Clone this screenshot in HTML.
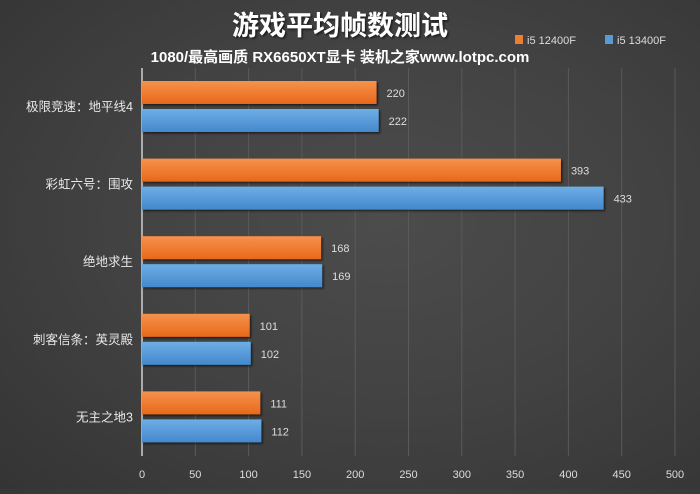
<!DOCTYPE html>
<html><head><meta charset="utf-8"><style>
html,body{margin:0;padding:0}
body{width:700px;height:489px;overflow:hidden;background:radial-gradient(ellipse at 55% 45%,#4c4c4c 0%,#424242 50%,#343434 100%);font-family:"Liberation Sans","Noto Sans CJK SC",sans-serif}
</style></head><body>
<svg id="chart" width="700" height="489">
<defs>
<linearGradient id="go" x1="0" y1="0" x2="0" y2="1"><stop offset="0" stop-color="#f5924c"/><stop offset="1" stop-color="#e8681a"/></linearGradient>
<linearGradient id="gb" x1="0" y1="0" x2="0" y2="1"><stop offset="0" stop-color="#6eaee6"/><stop offset="1" stop-color="#4488cc"/></linearGradient>
<filter id="sh" x="-5%" y="-20%" width="110%" height="150%"><feDropShadow dx="1.5" dy="1.5" stdDeviation="1" flood-color="#000" flood-opacity="0.6"/></filter>
</defs>
<text x="340" y="35" text-anchor="middle" font-size="27" font-weight="bold" fill="#fff" filter="url(#sh)">游戏平均帧数测试</text>
<text x="340" y="62" text-anchor="middle" font-size="15" font-weight="bold" fill="#fff">1080/最高画质 RX6650XT显卡 装机之家www.lotpc.com</text>
<g>
<rect x="515" y="35" width="8" height="9" fill="#ed7d31"/>
<text x="527" y="44" font-size="11" fill="#ddd">i5 12400F</text>
<rect x="605" y="35" width="8" height="9" fill="#5b9bd5"/>
<text x="617" y="44" font-size="11" fill="#ddd">i5 13400F</text>
</g>
<g id="grid"></g><g id="bars"></g><g id="labels"></g>
</svg>
<script>
const categories=["极限竞速：地平线4","彩虹六号：围攻","绝地求生","刺客信条：英灵殿","无主之地3"];
const series1=[220,393,168,101,111];
const series2=[222,433,169,102,112];
const ticks=[0,50,100,150,200,250,300,350,400,450,500];
const NS="http://www.w3.org/2000/svg";
const x0=142,pxPerUnit=533/500,yTop=68,yBottom=456,band=(yBottom-yTop)/categories.length;
const xs=v=>x0+v*pxPerUnit;
function mk(t,a,p){const e=document.createElementNS(NS,t);for(const k in a)e.setAttribute(k,a[k]);p.appendChild(e);return e;}
const grid=document.getElementById('grid'),bars=document.getElementById('bars'),labels=document.getElementById('labels');
ticks.forEach(t=>{
  if(t>0){const l=mk('line',{x1:xs(t),x2:xs(t),y1:yTop,y2:yBottom,stroke:'#5a5a5a','stroke-width':1},grid);
  
  }
  const tx=mk('text',{x:xs(t),y:478,'text-anchor':'middle','font-size':11,fill:'#ddd'},labels);
  tx.textContent=t;
  
  
});
const ax=mk('line',{x1:x0,x2:x0,y1:yTop,y2:yBottom,stroke:'#cfcfcf','stroke-width':1.5},grid);


categories.forEach((c,i)=>{
  const bt=yTop+i*band+13;
  [[series1,'url(#go)','12400f',0],[series2,'url(#gb)','13400f',28]].forEach(([s,f,n,off])=>{
    const r=mk('rect',{x:x0,y:bt+off,width:xs(s[i])-x0,height:23,fill:f,filter:'url(#sh)'},bars);
    
    
    const v=mk('text',{x:xs(s[i])+10,y:bt+off+16,'font-size':11,fill:'#ddd'},labels);
    v.textContent=s[i];
    
    
  });
  const cl=mk('text',{x:133,y:bt+30,'text-anchor':'end','font-size':12.5,fill:'#e8e8e8'},labels);
  cl.textContent=c;
  
  
});
</script>
</body></html>
